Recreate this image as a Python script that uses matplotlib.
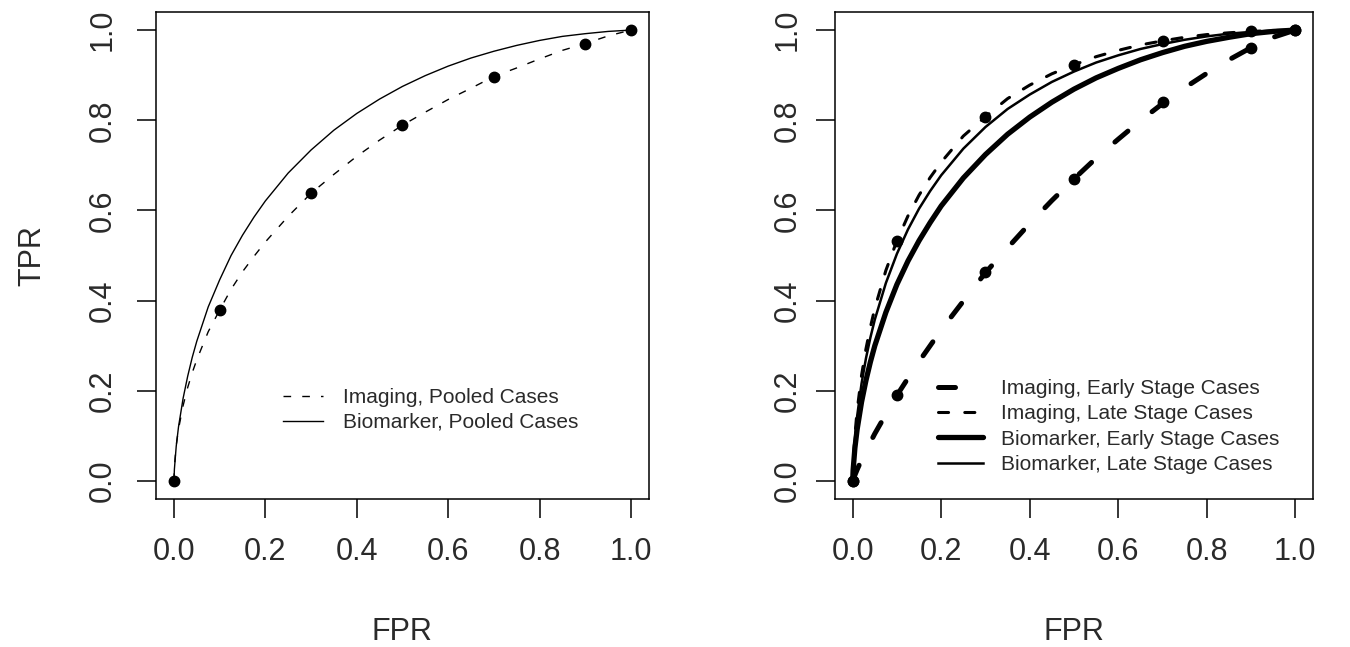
import matplotlib
matplotlib.use('Agg')
import matplotlib.pyplot as plt

plt.rcParams['font.family'] = ['Liberation Sans', 'DejaVu Sans']

# ---------------- data ----------------
fpr_grid = [0, 0.001, 0.005, 0.01, 0.02, 0.03, 0.04, 0.05, 0.075, 0.1, 0.125, 0.15, 0.175,
            0.2, 0.25, 0.3, 0.35, 0.4, 0.45, 0.5, 0.55, 0.6, 0.65, 0.7, 0.75, 0.8, 0.85,
            0.9, 0.95, 1.0]

# left panel curves
imaging_pooled_tpr = [0, .032, .079, .115, .167, .207, .240, .269, .331, .379, .425, .464, .498,
                      .530, .587, .638, .680, .720, .756, .789, .818, .846, .871, .897, .916,
                      .936, .955, .970, .987, 1.0]
biomarker_pooled_tpr = [0, .026, .077, .120, .183, .232, .274, .310, .386, .446, .500, .545, .585,
                        .621, .683, .734, .778, .815, .847, .875, .899, .920, .938, .953, .966,
                        .977, .986, .992, .997, 1.0]

# right panel curves
imaging_early_tpr = [0, .003, .013, .025, .047, .067, .086, .105, .148, .190, .228, .265, .300,
                     .335, .399, .462, .517, .571, .622, .670, .716, .758, .799, .837, .872,
                     .904, .934, .961, .984, 1.0]
imaging_late_tpr = [0, .035, .101, .156, .234, .293, .341, .383, .467, .533, .588, .634, .673,
                    .707, .765, .808, .848, .878, .903, .923, .941, .955, .967, .976, .984,
                    .990, .994, .997, .999, 1.0]
biomarker_early_tpr = [0, .024, .073, .114, .175, .223, .264, .300, .374, .436, .488, .533, .573,
                       .610, .672, .724, .769, .807, .840, .869, .894, .915, .934, .950, .964,
                       .975, .984, .992, .997, 1.0]
biomarker_late_tpr = [0, .032, .093, .143, .216, .272, .318, .358, .439, .504, .558, .604, .643,
                      .678, .737, .785, .825, .857, .885, .908, .928, .944, .958, .969, .9785,
                      .986, .992, .996, .999, 1.0]

# observed points
point_fpr = [0, 0.1, 0.3, 0.5, 0.7, 0.9, 1.0]
imaging_pooled_pts = [0, 0.379, 0.638, 0.789, 0.897, 0.970, 1.0]
imaging_early_pts = [0, 0.191, 0.464, 0.670, 0.840, 0.961, 1.0]
imaging_late_pts = [0, 0.533, 0.808, 0.923, 0.976, 0.999, 1.0]

tick_values = [0.0, 0.2, 0.4, 0.6, 0.8, 1.0]
tick_labels = ['0.0', '0.2', '0.4', '0.6', '0.8', '1.0']

legend_left = ['Imaging, Pooled Cases', 'Biomarker, Pooled Cases']
legend_right = ['Imaging, Early Stage Cases', 'Imaging, Late Stage Cases',
                'Biomarker, Early Stage Cases', 'Biomarker, Late Stage Cases']

TEXT = '#2a2a2a'

fig = plt.figure(figsize=(13.5, 6.47), dpi=100)
axL = fig.add_axes([0.1153, 0.2287, 0.3656, 0.7527])
axR = fig.add_axes([0.6185, 0.2287, 0.3541, 0.7527])

for ax in (axL, axR):
    ax.set_xlim(-0.04, 1.04)
    ax.set_ylim(-0.04, 1.04)
    ax.set_xticks(tick_values)
    ax.set_xticklabels(tick_labels)
    ax.set_yticks(tick_values)
    ax.set_yticklabels(tick_labels, rotation=90, va='center')
    ax.tick_params(length=13.5, width=1.1, labelsize=22, labelcolor=TEXT, color='black')
    ax.tick_params(axis='x', pad=14)
    for s in ax.spines.values():
        s.set_linewidth(1.1)
        s.set_color('black')
    ax.set_xlabel('FPR', fontsize=22, labelpad=36, color=TEXT)

axL.tick_params(axis='y', pad=14)
axR.tick_params(axis='y', pad=10)
axL.set_ylabel('TPR', fontsize=22, labelpad=29, color=TEXT)

# ---- left panel ----
l1, = axL.plot(fpr_grid, imaging_pooled_tpr, color='black', lw=1.0,
               linestyle=(0, (5.5, 8.0)), label=legend_left[0])
l2, = axL.plot(fpr_grid, biomarker_pooled_tpr, color='black', lw=1.0,
               linestyle='-', label=legend_left[1])
axL.plot(point_fpr, imaging_pooled_pts, 'o', color='black', ms=7.5, clip_on=False)

leg = axL.legend(handles=[l1, l2], loc='upper left', bbox_to_anchor=(0.258, 0.228),
                 frameon=False, fontsize=15, handlelength=1.92, handletextpad=0.97,
                 labelspacing=0.28, borderpad=0, borderaxespad=0)
for t in leg.get_texts():
    t.set_color(TEXT)

# ---- right panel ----
r1, = axR.plot(fpr_grid, imaging_early_tpr, color='black', lw=3.6,
               linestyle=(0, (3.4, 6.2)), dash_capstyle='round', label=legend_right[0])
r2, = axR.plot(fpr_grid, imaging_late_tpr, color='black', lw=2.2,
               linestyle=(0, (3.3, 5.3)), dash_capstyle='round', label=legend_right[1])
r3, = axR.plot(fpr_grid, biomarker_early_tpr, color='black', lw=3.8,
               linestyle='-', solid_capstyle='round', label=legend_right[2])
r4, = axR.plot(fpr_grid, biomarker_late_tpr, color='black', lw=1.8,
               linestyle='-', label=legend_right[3])
axR.plot(point_fpr, imaging_early_pts, 'o', color='black', ms=7.5)
axR.plot(point_fpr, imaging_late_pts, 'o', color='black', ms=7.5)

leg2 = axR.legend(handles=[r1, r2, r3, r4], loc='upper left', bbox_to_anchor=(0.216, 0.246),
                  frameon=False, fontsize=15, handlelength=2.16, handletextpad=0.85,
                  labelspacing=0.3, borderpad=0, borderaxespad=0)
for t in leg2.get_texts():
    t.set_color(TEXT)

fig.savefig('out.png', dpi=100)
